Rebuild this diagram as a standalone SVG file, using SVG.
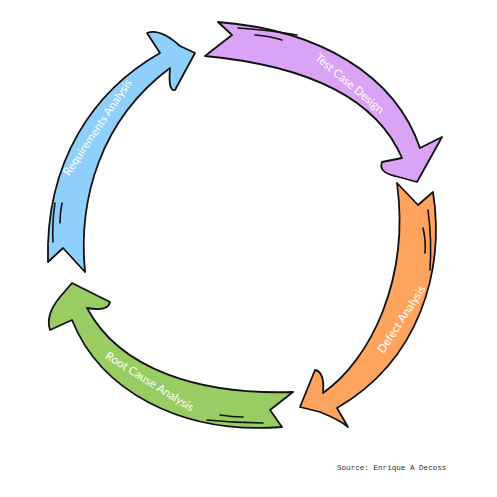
<svg xmlns="http://www.w3.org/2000/svg" width="497" height="497" viewBox="0 0 497 497">
<style>
.arrow{stroke:#111;stroke-width:1.8;stroke-linejoin:round;stroke-linecap:round}
.hatch{fill:none;stroke:#111;stroke-width:1.6;stroke-linecap:round}
.lbl{font-family:Lato,"Open Sans",sans-serif;font-size:11.5px;fill:#fff;text-anchor:middle;dominant-baseline:central}
.src{font-family:"Liberation Mono",monospace;font-size:7.6px;fill:#333}
</style>
<rect width="497" height="497" fill="#fff"/>
<g id="connectors">
<g id="test-case-design">
<path class="arrow" fill="#daa3f6" d="M218,22 L232,35 L205,56 C300,65 375,95 402,158 L382,162 Q378,172 395,176 L417,182 L442,137 L420,148 C395,75 320,30 218,22 Z"/>
<path class="hatch" d="M238,28 Q270,30 297,35 M255,35 Q270,36 282,40"/>
<text class="lbl" transform="translate(350,83) rotate(40)">Test Case Design</text>
</g>
<g id="defect-analysis">
<path class="arrow" fill="#ffa45e" d="M397,183 L418,205 L433,192 C445,270 420,360 337,408 L348,427 Q340,420 320,412 L300,407 L315,370 Q325,372 323,393 C370,360 410,280 397,183 Z"/>
<path class="hatch" d="M428,210 Q432,240 430,270 M423,228 Q426,240 425,253"/>
<text class="lbl" transform="translate(401,319) rotate(-57)">Defect Analysis</text>
</g>
<g id="root-cause-analysis">
<path class="arrow" fill="#99cc63" d="M293,392 L270,410 L282,427 C180,435 100,390 72,320 L50,330 Q45,315 60,297 L72,283 L110,302 Q108,312 87,308 C120,370 200,395 293,392 Z"/>
<path class="hatch" d="M220,415 Q232,417 243,417 M207,420 Q235,423 263,423"/>
<text class="lbl" transform="translate(150,381) rotate(32)">Root Cause Analysis</text>
</g>
<g id="requirements-analysis">
<path class="arrow" fill="#8ecffb" d="M48,262 L63,248 L85,272 C78,200 100,120 170,68 Q168,92 175,90 L195,53 L180,46 Q160,28 147,33 L160,53 C95,90 45,160 48,262 Z"/>
<path class="hatch" d="M55,203 Q52,222 53,242 M62,203 Q60,213 60,223"/>
<text class="lbl" transform="translate(97,127) rotate(-56)">Requirements Analysis</text>
</g>
</g>
<text class="src" x="337" y="470">Source: Enrique A Decoss</text>
</svg>
